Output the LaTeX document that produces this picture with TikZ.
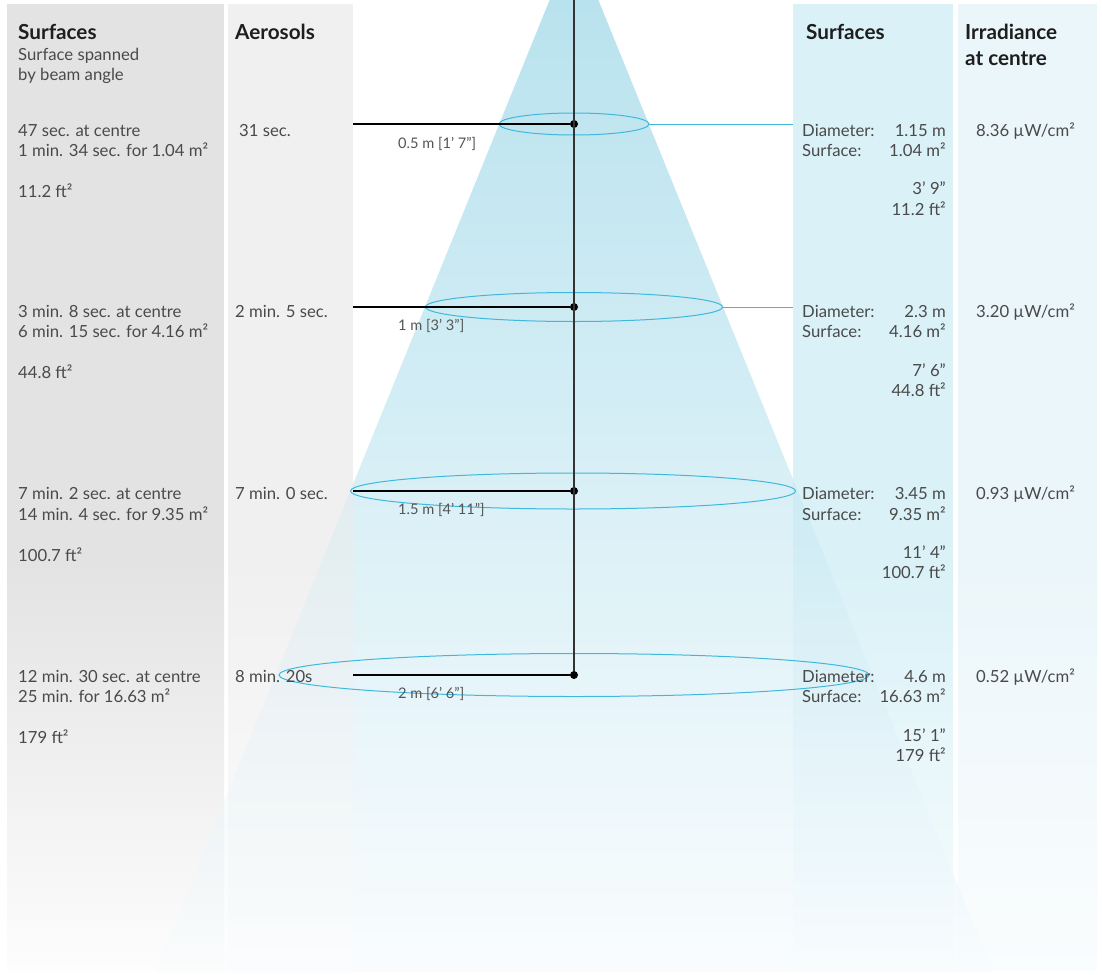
\documentclass[tikz,border=0pt]{standalone}
\usepackage{fontspec}
\setmainfont{Lato}
\usetikzlibrary{shapes.geometric}
\definecolor{colA}{HTML}{E3E3E3}
\definecolor{colB}{HTML}{F0F0F0}
\definecolor{colC}{HTML}{D9F1F7}
\definecolor{colD}{HTML}{EBF6FA}
\definecolor{beamtop}{HTML}{9BD7E8}
\definecolor{beambot}{HTML}{F8FCFE}
\definecolor{cyanline}{HTML}{3FB8DC}
\definecolor{txt}{HTML}{4A4A4A}
\definecolor{lbl}{HTML}{555555}
\definecolor{head}{HTML}{1E1E1E}
\definecolor{axisc}{HTML}{333333}
\begin{document}
\begin{tikzpicture}[x=1pt,y=-1pt,
  body/.style={font=\fontsize{16.7}{20}\selectfont, text=txt, inner sep=0pt, anchor=base west},
  bodyr/.style={body, anchor=base east},
  headtxt/.style={font=\fontsize{20.7}{24}\selectfont\bfseries, text=head, inner sep=0pt, anchor=base west},
  dist/.style={font=\fontsize{14.6}{16}\selectfont, text=lbl, inner sep=0pt, anchor=base west},
  ring/.style={ellipse, draw=cyanline, line width=1pt, inner sep=0pt, outer sep=0pt},
  dot/.style={circle, fill=black, inner sep=0pt, minimum size=8pt},
  blackline/.style={draw=black, line width=1.2pt},
  cyanconn/.style={draw=cyanline, line width=1pt},
  axisline/.style={draw=axisc, line width=1.3pt},
  beam/.style={top color=beamtop, bottom color=beambot}]
\useasboundingbox (0,0) rectangle (1102,974);
\fill[white] (0,0) rectangle (1102,974);
% columns: solid upper part, fading lower part
\fill[colA] (7,4) rectangle (224,560.5);
\shade[top color=colA, bottom color=colA!8!white] (7,560) rectangle (224,970);
\fill[colB] (228,4) rectangle (353,560.5);
\shade[top color=colB, bottom color=colB!12!white] (228,560) rectangle (353,970);
\fill[colC] (793,4) rectangle (953,560.5);
\shade[top color=colC, bottom color=colC!18!white] (793,560) rectangle (953,970);
\fill[colD] (958,4) rectangle (1097,560.5);
\shade[top color=colD, bottom color=colD!25!white] (958,560) rectangle (1097,970);
% beam (fainter where it crosses the grey columns)
\begin{scope}
  \clip (0,0) rectangle (353,974);
  \shade[beam, fill opacity=0.35]
    (549.6,0) -- (598.4,0) -- (993,972) -- (155,972) -- cycle;
\end{scope}
\begin{scope}
  \clip (353,0) rectangle (1102,974);
  \shade[beam, fill opacity=0.7]
    (549.6,0) -- (598.4,0) -- (993,972) -- (155,972) -- cycle;
\end{scope}
% rings
\node[ring, minimum width=150pt, minimum height=22pt] (ring1) at (574,124) {};
\node[ring, minimum width=297pt, minimum height=29pt] (ring2) at (574,307) {};
\node[ring, minimum width=445pt, minimum height=36pt] (ring3) at (573,491) {};
\node[ring, minimum width=590pt, minimum height=43pt] (ring4) at (574,675) {};
% dots
\node[dot] (dot1) at (574,124) {};
\node[dot] (dot2) at (574,307) {};
\node[dot] (dot3) at (574,491) {};
\node[dot] (dot4) at (574,675) {};
\coordinate (top) at (574,0);
\coordinate (aer1) at (353,124);
\coordinate (aer2) at (353,307);
\coordinate (aer3) at (353,491);
\coordinate (aer4) at (353,675);
\coordinate (srf1) at (793,124);
\coordinate (srf2) at (793,307);
\draw[axisline] (top) -- (dot4);
\draw[blackline] (aer1) -- (dot1);
\draw[blackline] (aer2) -- (dot2);
\draw[blackline] (aer3) -- (dot3);
\draw[blackline] (aer4) -- (dot4);
\draw[cyanconn] (ring1.east) -- (srf1);
\draw[cyanconn] (ring2.east) -- (srf2);
% distance labels
\node[dist] (d1) at (398,148) {0.5 m [1' 7"]};
\node[dist] (d2) at (398,330.5) {1 m [3' 3"]};
\node[dist] (d3) at (398,514) {1.5 m [4' 11"]};
\node[dist] (d4) at (398,698) {2 m [6' 6"]};
% headings
\node[headtxt] (h1) at (18,39.5) {Surfaces};
\node[body] (h1a) at (18,60.5) {Surface spanned};
\node[body] (h1b) at (18,81) {by beam angle};
\node[headtxt] (h2) at (235,39.5) {Aerosols};
\node[headtxt] (h3) at (806,39.5) {Surfaces};
\node[headtxt] (h4) at (965,39.5) {Irradiance};
\node[headtxt] (h4b) at (965,65) {at centre};
% left column
\node[body] (s1a) at (18,136) {47 sec. at centre};
\node[body] (s1b) at (18,156) {1 min. 34 sec. for 1.04 m²};
\node[body] (s1c) at (18,197) {11.2 ft²};
\node[body] (s2a) at (18,317.5) {3 min. 8 sec. at centre};
\node[body] (s2b) at (18,337.5) {6 min. 15 sec. for 4.16 m²};
\node[body] (s2c) at (18,378.5) {44.8 ft²};
\node[body] (s3a) at (18,499.5) {7 min. 2 sec. at centre};
\node[body] (s3b) at (18,520) {14 min. 4 sec. for 9.35 m²};
\node[body] (s3c) at (18,561) {100.7 ft²};
\node[body] (s4a) at (18,682.5) {12 min. 30 sec. at centre};
\node[body] (s4b) at (18,702.5) {25 min. for 16.63 m²};
\node[body] (s4c) at (18,743.5) {179 ft²};
% aerosols
\node[body] (a1) at (239,136) {31 sec.};
\node[body] (a2) at (235,317.5) {2 min. 5 sec.};
\node[body] (a3) at (235,499.5) {7 min. 0 sec.};
\node[body] (a4) at (235,682.5) {8 min. 20s};
% right surfaces
\node[body] (r1a) at (802,136) {Diameter:};
\node[body] (r1b) at (802,156) {Surface:};
\node[bodyr] (v1a) at (946,136) {1.15 m};
\node[bodyr] (v1b) at (946,156) {1.04 m²};
\node[bodyr] (v1c) at (946,194.5) {3’ 9”};
\node[bodyr] (v1d) at (946,215) {11.2 ft²};
\node[body] (r2a) at (802,317.5) {Diameter:};
\node[body] (r2b) at (802,337.5) {Surface:};
\node[bodyr] (v2a) at (946,317.5) {2.3 m};
\node[bodyr] (v2b) at (946,337.5) {4.16 m²};
\node[bodyr] (v2c) at (946,376) {7’ 6”};
\node[bodyr] (v2d) at (946,396.5) {44.8 ft²};
\node[body] (r3a) at (802,499.5) {Diameter:};
\node[body] (r3b) at (802,520) {Surface:};
\node[bodyr] (v3a) at (946,499.5) {3.45 m};
\node[bodyr] (v3b) at (946,520) {9.35 m²};
\node[bodyr] (v3c) at (946,558) {11’ 4”};
\node[bodyr] (v3d) at (946,578.5) {100.7 ft²};
\node[body] (r4a) at (802,682.5) {Diameter:};
\node[body] (r4b) at (802,702.5) {Surface:};
\node[bodyr] (v4a) at (946,682.5) {4.6 m};
\node[bodyr] (v4b) at (946,702.5) {16.63 m²};
\node[bodyr] (v4c) at (946,741) {15’ 1”};
\node[bodyr] (v4d) at (946,761.5) {179 ft²};
% irradiance
\node[body] (i1) at (976,136) {8.36 µW/cm²};
\node[body] (i2) at (976,317.5) {3.20 µW/cm²};
\node[body] (i3) at (976,499.5) {0.93 µW/cm²};
\node[body] (i4) at (976,682.5) {0.52 µW/cm²};
\end{tikzpicture}
\end{document}
